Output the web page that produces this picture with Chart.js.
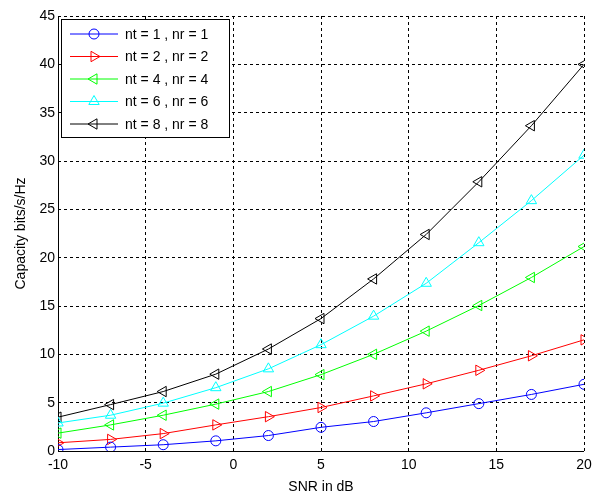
<!DOCTYPE html>
<html>
<head>
<meta charset="utf-8">
<script src="https://cdn.jsdelivr.net/npm/chart.js@4"></script>
<style>
  html, body { margin: 0; padding: 0; background: #fff; }
  #wrap { width: 595px; height: 494px; }
</style>
</head>
<body>
<div id="wrap"><canvas id="chart-area"></canvas></div>
<script>
// SNR in dB
var snr = [-10, -7, -4, -1, 2, 5, 8, 11, 14, 17, 20];

// capacity (bits/s/Hz)
var cap1 = [0.15, 0.4, 0.65, 1.05, 1.6, 2.45, 3.05, 3.95, 4.9, 5.85, 6.9];
var cap2 = [0.85, 1.2, 1.8, 2.7, 3.55, 4.5, 5.7, 6.95, 8.35, 9.85, 11.5];
var cap4 = [1.85, 2.7, 3.7, 4.85, 6.15, 7.9, 10.0, 12.4, 15.05, 17.95, 21.15];
var cap6 = [2.9, 3.7, 4.95, 6.55, 8.5, 11.0, 13.95, 17.35, 21.55, 25.9, 30.6];
var cap8 = [3.5, 4.8, 6.15, 7.95, 10.55, 13.7, 17.8, 22.4, 27.85, 33.65, 40.0];

var labels = ['nt = 1 , nr = 1', 'nt = 2 , nr = 2', 'nt = 4 , nr = 4', 'nt = 6 , nr = 6', 'nt = 8 , nr = 8'];
var colors = ['#0000ff', '#ff0000', '#00ff00', '#00ffff', '#000000'];

var xTicks = [-10, -5, 0, 5, 10, 15, 20];
var yTicks = [0, 5, 10, 15, 20, 25, 30, 35, 40, 45];

var FONT = 'Liberation Sans, Arial, Helvetica, sans-serif';

function pts(ys){
    return snr.map(function(x, i){ return {x: x, y: ys[i]}; });
}

function makeSet(i, ys, style, rot, rad){
    return {
        label: labels[i],
        data: pts(ys),
        borderColor: colors[i],
        backgroundColor: colors[i],
        borderWidth: 1,
        pointStyle: style,
        rotation: rot,
        pointRadius: rad,
        pointBorderWidth: 1,
        pointBorderColor: colors[i],
        pointBackgroundColor: 'rgba(0,0,0,0)',
        tension: 0
    };
}

// solid left/bottom axes + matlab style legend box inside the axes
var boxLegend = {
    id: 'boxLegend',
    beforeDatasetsDraw: function(chart){
        var a = chart.chartArea, ctx = chart.ctx;
        ctx.save();
        ctx.strokeStyle = '#000';
        ctx.lineWidth = 1;
        ctx.setLineDash([]);
        ctx.beginPath();
        ctx.moveTo(Math.round(a.left) + 0.5, a.top);
        ctx.lineTo(Math.round(a.left) + 0.5, Math.round(a.bottom) + 0.5);
        ctx.lineTo(a.right, Math.round(a.bottom) + 0.5);
        ctx.stroke();
        ctx.restore();
    },
    afterDatasetsDraw: function(chart){
        var ctx = chart.ctx;
        var x0 = 61.5, y0 = 19.5, w = 168, h = 118;
        ctx.save();
        ctx.fillStyle = '#fff';
        ctx.fillRect(x0, y0, w, h);
        ctx.strokeStyle = '#000';
        ctx.lineWidth = 1;
        ctx.strokeRect(x0, y0, w, h);
        ctx.font = '14px ' + FONT;
        ctx.textBaseline = 'middle';
        chart.data.datasets.forEach(function(ds, i){
            var yy = 34 + i * 22.5;
            ctx.strokeStyle = ds.borderColor;
            ctx.lineWidth = 1;
            ctx.beginPath();
            ctx.moveTo(70, yy);
            ctx.lineTo(118, yy);
            ctx.stroke();
            ctx.fillStyle = 'rgba(0,0,0,0)';
            Chart.helpers.drawPoint(ctx, {
                pointStyle: ds.pointStyle,
                rotation: ds.rotation,
                radius: ds.pointRadius,
                borderWidth: 1
            }, 94, yy);
            ctx.fillStyle = '#000';
            ctx.fillText(ds.label, 125, yy + 1);
        });
        ctx.restore();
    }
};

var ctx = document.getElementById('chart-area').getContext('2d');
var config = {
    type: 'line',
    data: {
        datasets: [
            makeSet(0, cap1, 'circle', 0, 5),
            makeSet(1, cap2, 'triangle', 90, 6),
            makeSet(2, cap4, 'triangle', -90, 6),
            makeSet(3, cap6, 'triangle', 0, 6),
            makeSet(4, cap8, 'triangle', -90, 6)
        ]
    },
    options: {
        responsive: true,
        maintainAspectRatio: false,
        animation: false,
        layout: { padding: { top: 16, right: 11, left: 0, bottom: 0 } },
        plugins: {
            legend: { display: false },
            tooltip: { enabled: false }
        },
        scales: {
            x: {
                type: 'linear',
                min: -10,
                max: 20,
                afterBuildTicks: function(s){ s.ticks = xTicks.map(function(v){ return {value: v}; }); },
                afterFit: function(s){ s.height = 43; s.paddingRight = 0; s.paddingLeft = 0; },
                grid: { color: '#000', lineWidth: 1, drawTicks: false },
                border: { display: false, dash: [3, 3] },
                ticks: { color: '#000', font: { family: FONT, size: 14 }, padding: 6, maxRotation: 0 },
                title: { display: true, text: 'SNR in dB', color: '#000', font: { family: FONT, size: 14, lineHeight: 1 }, padding: { top: 10, bottom: 0 } }
            },
            y: {
                min: 0,
                max: 45,
                afterBuildTicks: function(s){ s.ticks = yTicks.map(function(v){ return {value: v}; }); },
                afterFit: function(s){ s.width = 58; s.paddingTop = 0; s.paddingBottom = 0; },
                grid: { color: '#000', lineWidth: 1, drawTicks: false },
                border: { display: false, dash: [3, 3] },
                ticks: { color: '#000', font: { family: FONT, size: 14 }, padding: 3 },
                title: { display: true, text: 'Capacity bits/s/Hz', color: '#000', font: { family: FONT, size: 14 }, padding: { top: 13, bottom: 0 } }
            }
        }
    },
    plugins: [boxLegend]
};
window.capChart = new Chart(ctx, config);
</script>
</body>
</html>
